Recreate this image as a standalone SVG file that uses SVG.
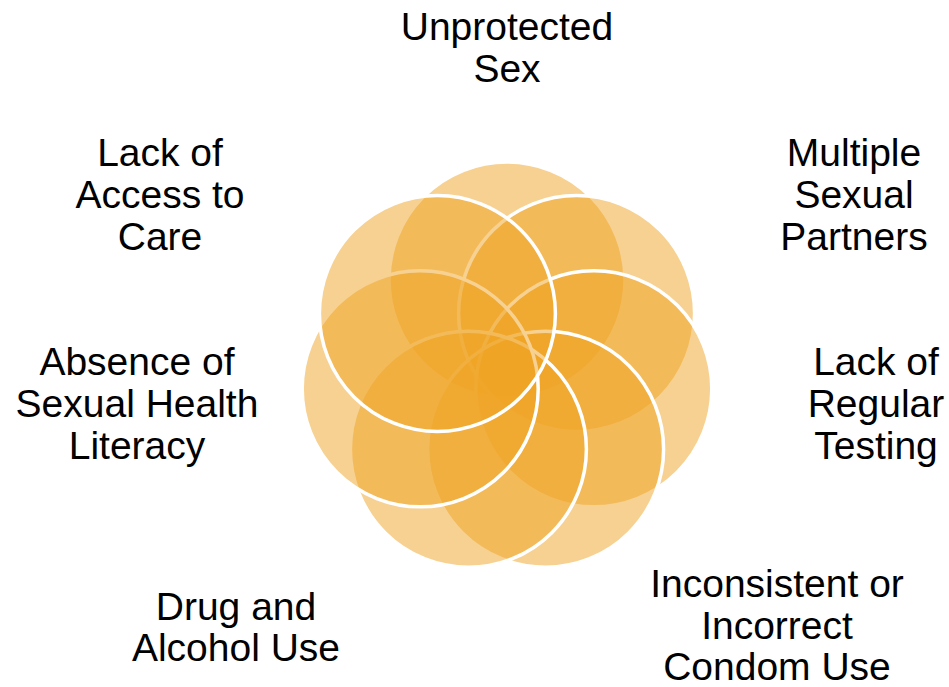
<svg xmlns="http://www.w3.org/2000/svg" width="949" height="687" viewBox="0 0 949 687">
<style>
.c{fill:#EFA424;fill-opacity:0.5;stroke:#FFFFFF;stroke-width:3.5}
.t{font-family:"Liberation Sans",Arial,sans-serif;font-size:39px;fill:#000000;text-anchor:middle}
</style>
<rect width="949" height="687" fill="#FFFFFF"/>
<g id="circles">
<g id="n-unprotected"><circle class="c" cx="507" cy="280" r="118"/></g>
<g id="n-multiple"><circle class="c" cx="576.6" cy="313.5" r="118"/></g>
<g id="n-testing"><circle class="c" cx="593.8" cy="388.8" r="118"/></g>
<g id="n-condom"><circle class="c" cx="545.6" cy="449.2" r="118"/></g>
<g id="n-drug"><circle class="c" cx="468.4" cy="449.2" r="118"/></g>
<g id="n-literacy"><circle class="c" cx="420.2" cy="388.8" r="118"/></g>
<g id="n-access"><circle class="c" cx="437.4" cy="313.5" r="118"/></g>
</g>
<g id="connectors"/>
<g id="labels">
<text class="t" x="507" y="40">Unprotected</text>
<text class="t" x="507" y="82">Sex</text>
<text class="t" x="854" y="166">Multiple</text>
<text class="t" x="854" y="208">Sexual</text>
<text class="t" x="854" y="250">Partners</text>
<text class="t" x="876" y="375">Lack of</text>
<text class="t" x="876" y="417">Regular</text>
<text class="t" x="876" y="459">Testing</text>
<text class="t" x="777" y="597">Inconsistent or</text>
<text class="t" x="777" y="639">Incorrect</text>
<text class="t" x="777" y="680">Condom Use</text>
<text class="t" x="236" y="620">Drug and</text>
<text class="t" x="236" y="661">Alcohol Use</text>
<text class="t" x="137" y="375">Absence of</text>
<text class="t" x="137" y="417">Sexual Health</text>
<text class="t" x="137" y="459">Literacy</text>
<text class="t" x="160" y="166">Lack of</text>
<text class="t" x="160" y="208">Access to</text>
<text class="t" x="160" y="250">Care</text>
</g>
</svg>
